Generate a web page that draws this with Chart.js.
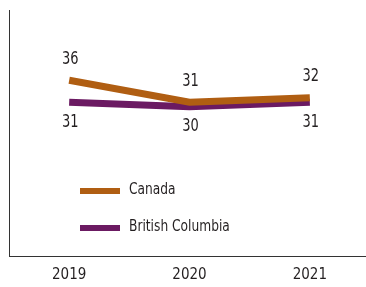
<!DOCTYPE html>
<html>
<head>
<meta charset="utf-8">
<script src="https://cdn.jsdelivr.net/npm/chart.js@4.4.0/dist/chart.umd.min.js"></script>
<style>
  html, body { margin: 0; padding: 0; background: #fff; overflow: hidden; }
  #wrap { position: relative; width: 370px; height: 287px; }
</style>
</head>
<body>
<div id="wrap"><canvas id="lineChart"></canvas></div>
<script>
// chart data
const years = ['2019', '2020', '2021'];
const canadaValues = [36, 31, 32];
const bcValues = [31, 30, 31];
const seriesNames = ['Canada', 'British Columbia'];

const FONT = "'Liberation Sans Narrow', 'DejaVu Sans Condensed', sans-serif";
const TEXT_COLOR = '#231f20';

// squeezed text, the original uses a condensed face
function narrowText(ctx, text, x, y, squeeze) {
    ctx.save();
    ctx.translate(x, y);
    ctx.scale(squeeze, 1);
    ctx.fillText(text, 0, 0);
    ctx.restore();
}

// draws the value above (Canada) or below (BC) each point
const valueLabels = {
    id: 'valueLabels',
    afterDatasetsDraw(chart) {
        const ctx = chart.ctx;
        ctx.save();
        ctx.font = '17px ' + FONT;
        ctx.fillStyle = TEXT_COLOR;
        ctx.textAlign = 'center';
        ctx.textBaseline = 'middle';
        chart.data.datasets.forEach((ds, i) => {
            const meta = chart.getDatasetMeta(i);
            const shift = i === 0 ? -21 : 20;
            meta.data.forEach((pt, j) => {
                narrowText(ctx, String(ds.data[j]), pt.x + 1, pt.y + shift, 0.85);
            });
        });
        ctx.restore();
    }
};

// legend drawn inside the plot, lower left
const innerLegend = {
    id: 'innerLegend',
    afterDraw(chart) {
        const ctx = chart.ctx;
        ctx.save();
        ctx.font = '16px ' + FONT;
        ctx.textBaseline = 'middle';
        chart.data.datasets.forEach((ds, i) => {
            const y = 191 + i * 37;
            ctx.strokeStyle = ds.borderColor;
            ctx.lineWidth = 6;
            ctx.beginPath();
            ctx.moveTo(80, y);
            ctx.lineTo(120, y);
            ctx.stroke();
            ctx.fillStyle = TEXT_COLOR;
            narrowText(ctx, ds.label, 129, y - 1, 0.85);
        });
        ctx.restore();
    }
};

const ctx = document.getElementById('lineChart').getContext('2d');
new Chart(ctx, {
    type: 'line',
    data: {
        labels: years,
        datasets: [{
            label: seriesNames[0],
            data: canadaValues,
            borderColor: '#b05e12',
            borderWidth: 7,
            pointRadius: 0,
            tension: 0
        }, {
            label: seriesNames[1],
            data: bcValues,
            borderColor: '#6b1a62',
            borderWidth: 7,
            pointRadius: 0,
            tension: 0
        }]
    },
    options: {
        responsive: true,
        maintainAspectRatio: false,
        animation: false,
        layout: { padding: { left: 8, top: 10, right: 0, bottom: 0 } },
        plugins: {
            legend: { display: false },
            tooltip: { enabled: false }
        },
        scales: {
            x: {
                offset: true,
                grid: { display: false },
                border: { display: true, color: '#333', width: 1 },
                ticks: { color: TEXT_COLOR, font: { family: FONT, size: 15 }, padding: 2 },
                afterFit(scale) { scale.height = 31; }
            },
            y: {
                min: -4,
                max: 52,
                grid: { display: false },
                border: { display: true, color: '#333', width: 1 },
                ticks: { display: false },
                afterFit(scale) { scale.width = 1; }
            }
        }
    },
    plugins: [valueLabels, innerLegend]
});
</script>
</body>
</html>
